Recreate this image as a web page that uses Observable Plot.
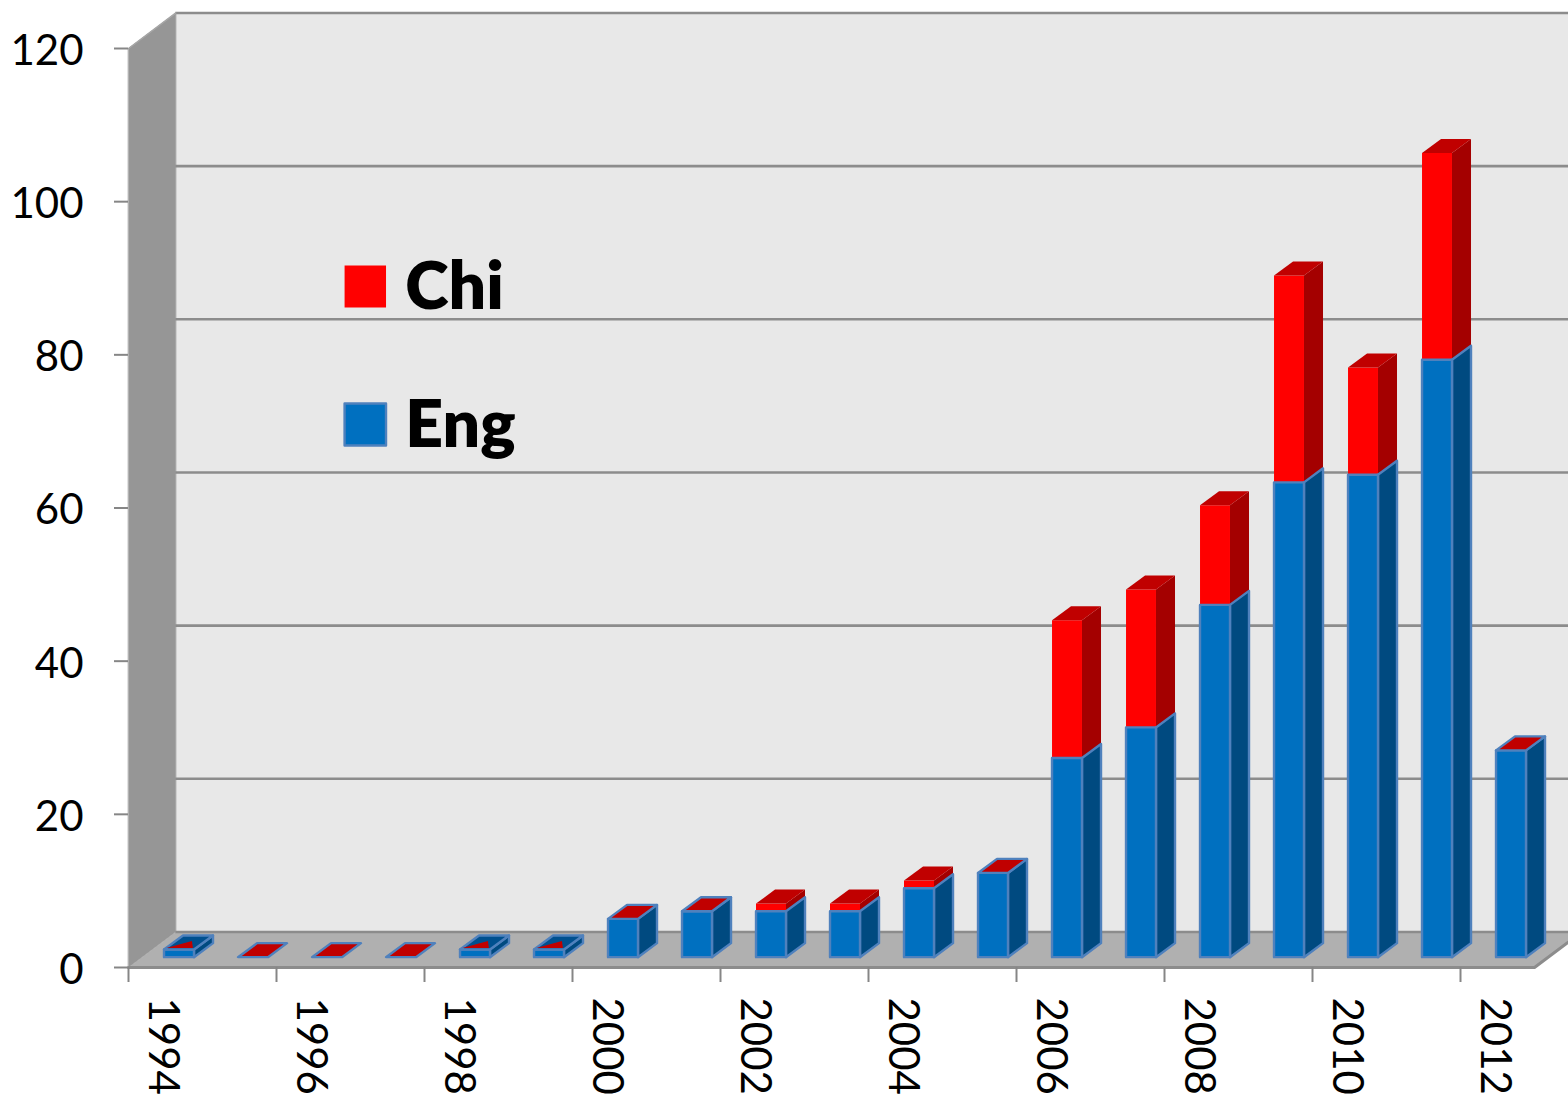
<!DOCTYPE html>
<html>
<head>
<meta charset="utf-8">
<script src="https://cdn.jsdelivr.net/npm/d3@7"></script>
<script src="https://cdn.jsdelivr.net/npm/@observablehq/plot@0.6"></script>
<style>
html,body{margin:0;padding:0;background:#fff;overflow:hidden}
svg{display:block}
</style>
</head>
<body>
<div id="chart"></div>
<script>
const years = [1994,1995,1996,1997,1998,1999,2000,2001,2002,2003,2004,2005,2006,2007,2008,2009,2010,2011,2012];
const eng   = [1,0,0,0,1,1,5,6,6,6,9,11,26,30,46,62,63,78,27];
const chi   = [0,0,0,0,0,0,0,0,1,1,1,0,18,18,13,27,14,27,0];
const yTicks = [0,20,40,60,80,100,120];
const yearLabels = years.filter(y => y % 2 === 0);
const axisTicks = yearLabels.map(y => y - 0.5);

// projection of the box in data units
const wallDX = 0.64, wallDY = 4.64;
const barDX = 0.257, barDY = 1.83;
const barW = 0.405, barOffX = -0.02, barBase = 1.35;
const x0 = 1993.5, x1 = 2012.5, yMax = 120;

const C = {
  wall:"#e8e8e8", side:"#969696", floor:"#b0b0b0", grid:"#8c8c8c", tick:"#868686",
  blue:"#0070c0", blueSide:"#004a80", blueTop:"#00508f", blueEdge:"#4f81bd",
  red:"#ff0000", redSide:"#a40000", redTop:"#c00000"
};

const poly = (pts, fill, stroke = "none", strokeWidth = 2.4) =>
  Plot.line(pts, {x:"0", y:"1", fill, stroke, strokeWidth, curve:"linear-closed", strokeLinejoin:"round"});

const marks = [];
// walls and floor
marks.push(poly([[x0+wallDX,wallDY],[x1+wallDX+1,wallDY],[x1+wallDX+1,yMax+wallDY],[x0+wallDX,yMax+wallDY]], C.wall));
marks.push(poly([[x0,0],[x0+wallDX,wallDY],[x0+wallDX,yMax+wallDY],[x0,yMax]], C.side, "#a6a6a6", 1));
marks.push(poly([[x0,0],[x1,0],[x1+wallDX,wallDY],[x0+wallDX,wallDY]], C.floor));
marks.push(Plot.line([[x0,0],[x1,0],[x1+wallDX,wallDY]], {x:"0", y:"1", stroke:C.grid, strokeWidth:3}));
marks.push(Plot.ruleY(yTicks, {y:d => d + wallDY, x1:x0+wallDX, x2:x1+wallDX+1, stroke:C.grid, strokeWidth:2.6}));
marks.push(Plot.line([[x0,yMax],[x0+wallDX,yMax+wallDY]], {x:"0", y:"1", stroke:"#a6a6a6", strokeWidth:1.5}));

// bars
years.forEach((year, i) => {
  const l = year + barOffX, r = l + barW;
  const b = barBase, e = barBase + eng[i], t = e + chi[i];
  const box = (lo, hi, front, side, edge) => [
    poly([[r,lo],[r+barDX,lo+barDY],[r+barDX,hi+barDY],[r,hi]], side, edge),
    poly([[l,lo],[r,lo],[r,hi],[l,hi]], front, edge)
  ];
  const top = (v, fill, edge) => poly([[l,v],[r,v],[r+barDX,v+barDY],[l+barDX,v+barDY]], fill, edge);
  if (chi[i] > 0) {
    marks.push(...box(e, t, C.red, C.redSide, "none"));
    marks.push(top(t, C.redTop, "none"));
    marks.push(...box(b, e, C.blue, C.blueSide, C.blueEdge));
  } else if (eng[i] === 1) {
    marks.push(...box(b, e, C.blue, C.blueSide, C.blueEdge));
    marks.push(top(e, C.blueTop, C.blueEdge));
    const p = (u, v) => [l + barW*u + barDX*v, e + barDY*v];
    marks.push(poly([p(0.02,0.1),p(0.55,0.6),p(0.9,0.1)], C.redTop));
  } else if (eng[i] === 0) {
    marks.push(top(e, C.redTop, C.blueEdge));
  } else {
    marks.push(...box(b, e, C.blue, C.blueSide, C.blueEdge));
    marks.push(top(e, C.redTop, C.blueEdge));
  }
});

// legend
const legendItems = ["Chi","Eng"];
const legendColor = [C.red, C.blue];
const legendEdge = ["none", C.blueEdge];
const legendTop = [91.67, 73.65];
const swatchH = 5.48, swatchL = 1996.42, swatchR = 1996.98, labelX = 1997.24;
legendItems.forEach((name, i) => {
  const t = legendTop[i];
  marks.push(poly([[swatchL,t],[swatchR,t],[swatchR,t-swatchH],[swatchL,t-swatchH]], legendColor[i], legendEdge[i]));
  marks.push(Plot.text([name], {x:labelX, y:t-swatchH/2, text:d=>d, textAnchor:"start", fontSize:66, fontWeight:800, fill:"#000", dy:1}));
});

// axes
marks.push(Plot.axisY(yTicks, {anchor:"left", tickSize:14, stroke:C.tick, strokeWidth:2, tickFormat:()=>"", label:null}));
marks.push(Plot.axisY(yTicks, {anchor:"left", tickSize:0, tickPadding:45, dy:3, fontSize:42, fill:"#000", label:null}));
marks.push(Plot.axisX(axisTicks, {anchor:"bottom", tickSize:15, stroke:C.tick, strokeWidth:2, tickFormat:()=>"", label:null}));
marks.push(Plot.axisX(yearLabels, {anchor:"bottom", tickSize:0, tickPadding:30, tickRotate:90, dx:-3, fontSize:42, fill:"#000", tickFormat:d=>String(d), label:null}));

const chart = Plot.plot({
  width:1568, height:1096,
  marginLeft:128, marginRight:34, marginTop:48, marginBottom:129,
  x:{domain:[x0,x1]},
  y:{domain:[0,yMax]},
  style:{fontFamily:"Lato, 'Open Sans', sans-serif", background:"#fff"},
  marks
});
document.getElementById("chart").appendChild(chart);
</script>
</body>
</html>
